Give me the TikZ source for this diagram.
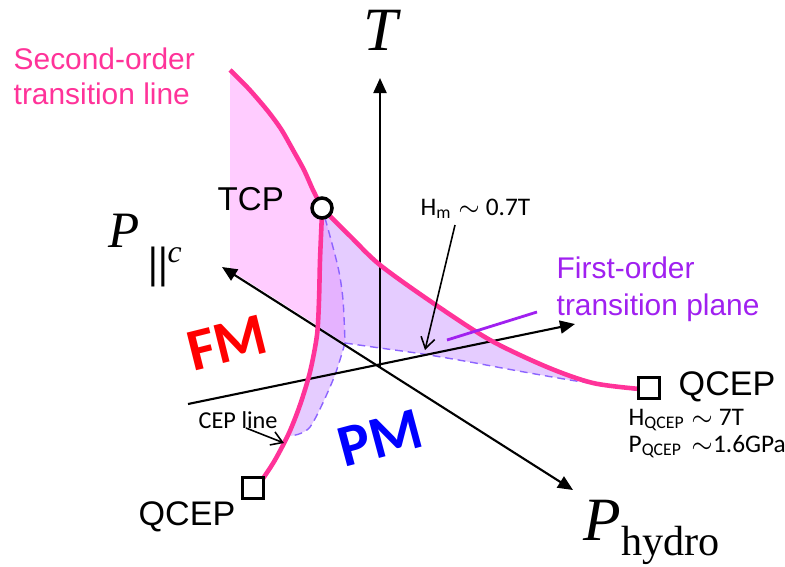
\documentclass[tikz,border=0pt]{standalone}
\usepackage{fontspec}
\usepackage{tikz}
\usetikzlibrary{arrows.meta}
\usetikzlibrary{calc}
\newfontfamily\arialfont{Liberation Sans}
\newfontfamily\calfont{Carlito}
\newfontfamily\timesfont{Liberation Serif}
\definecolor{hotpink}{RGB}{255,51,153}
\definecolor{pinkfill}{RGB}{255,204,255}
\definecolor{lavender}{RGB}{204,153,255}
\definecolor{dashpurple}{RGB}{140,100,255}
\definecolor{violet}{RGB}{160,32,240}
\definecolor{red}{RGB}{255,0,0}
\definecolor{blue}{RGB}{0,0,255}

\begin{document}
\begin{tikzpicture}[x=0.01cm, y=-0.01cm,
  axis/.style={line width=0.6pt},
  axtip/.style={-{Triangle[length=1.5mm,width=1.3mm]}},
  pinkline/.style={hotpink, line width=1.3pt},
  dashline/.style={dashpurple, line width=0.4pt, dash pattern=on 2.2pt off 1.4pt},
  note/.style={->, >={Straight Barb[length=1.1mm,width=1.4mm]}, line width=0.45pt},
  qbox/.style={draw, line width=0.9pt, fill=white, minimum size=0.21cm, inner sep=0pt},
  tcpdot/.style={draw, circle, line width=1pt, fill=white, minimum size=0.2cm, inner sep=0pt},
  txt/.style={inner sep=0pt}]

\useasboundingbox (0,0) rectangle (785,566);

%---------------------------------------
% Axes end points
%---------------------------------------
\coordinate (O)  at (380,367);
\coordinate (Tt) at (380,78);
\coordinate (Pc) at (222,267);
\coordinate (Ph) at (573,490);
\coordinate (Hm) at (188,404);
\coordinate (Hp) at (575,324);

%---------------------------------------
% Planes
%---------------------------------------
% second-order sheet (pink)
\fill[pinkfill] plot[smooth] coordinates {(230,70) (248,88) (267,110) (281,129) (293,150) (304,170) (313,190) (322,208)}
  -- plot[smooth] coordinates {(325,218) (338,267) (343,300) (345,343)}
  -- (230,270) -- cycle;

% first-order plane (lavender)
\fill[lavender, opacity=0.5] plot[smooth] coordinates {(322,208) (350,236) (380,265) (433,303) (490,340) (547,367) (593,383) (640,389)}
  -- plot[smooth] coordinates {(635,390) (570,380) (513,370) (470,362) (423,354) (380,348) (345,343)}
  -- plot[smooth] coordinates {(345,343) (333,380) (310,427) (290,436)}
  -- plot[smooth] coordinates {(289,433) (300,405) (310,372) (317,335) (319,300) (320,260) (322,213)}
  -- cycle;

% edges of the plane
\draw[dashline] plot[smooth] coordinates {(325,218) (338,267) (343,300) (345,343)};
\draw[dashline] plot[smooth] coordinates {(345,343) (380,348) (423,354) (470,362) (513,370) (570,380) (635,390)};
\draw[dashline] plot[smooth] coordinates {(345,343) (333,380) (310,427) (290,436)};

%---------------------------------------
% Axes
%---------------------------------------
\draw[axis, axtip] (O) -- (Tt);
\draw[axis, {Triangle[length=1.5mm,width=1.3mm]}-{Triangle[length=1.5mm,width=1.3mm]}] (Pc) -- (Ph);
\draw[axis, axtip] (Hm) -- (Hp);

\node[txt, anchor=base] (Tlab) at (381,50) {\timesfont\fontsize{17.5}{20}\selectfont\itshape T};
\node[txt, anchor=base west] (Pclab) at (108,247)
  {\timesfont\fontsize{14.5}{16}\selectfont\itshape P\,\raisebox{-0.30cm}{\fontsize{12.5}{14}\selectfont\upshape\bfseries ||\raisebox{0.15cm}{\fontsize{9}{10}\selectfont\mdseries\itshape c}}};
\node[txt, anchor=base west] (Phlab) at (583,540)
  {\timesfont\fontsize{17.5}{20}\selectfont\itshape P\raisebox{-0.15cm}{\fontsize{12}{14}\selectfont\upshape hydro}};

%---------------------------------------
% Transition lines
%---------------------------------------
\draw[pinkline] plot[smooth] coordinates {(230,70) (248,88) (267,110) (281,129) (293,150) (304,170) (313,190) (322,208)};
\draw[pinkline] plot[smooth] coordinates {(322,208) (350,236) (380,265) (433,303) (490,340) (547,367) (593,383) (640,389)};
\draw[pinkline] plot[smooth] coordinates {(322,213) (320,260) (319,300) (317,335) (310,372) (300,405) (289,433) (275,460) (262,480)};

\node[tcpdot] (tcp) at (322,208) {};
\node[qbox] (qcepR) at (649,388) {};
\node[qbox] (qcepL) at (253,488) {};

%---------------------------------------
% Labels
%---------------------------------------
\node[txt, anchor=north west, align=left, hotpink, font=\arialfont\fontsize{8.5}{10}\selectfont] (soLab) at (13,47)
  {Second-order\\transition line};
\node[txt, anchor=north west, align=left, violet, font=\arialfont\fontsize{8.5}{10.5}\selectfont] (foLab) at (556,256)
  {First-order\\transition plane};
\node[txt, anchor=base west] (tcpLab) at (217,210) {\arialfont\fontsize{9.4}{11}\selectfont TCP};
\node[txt, anchor=base west] (qRLab) at (678,395) {\arialfont\fontsize{9.7}{11}\selectfont QCEP};
\node[txt, anchor=base west] (qLLab) at (138,525) {\arialfont\fontsize{9.7}{11}\selectfont QCEP};
\node[txt, anchor=base west] (hmLab) at (420,215) {\calfont\fontsize{7.2}{9}\selectfont H\textsubscript{m} $\sim$ 0.7T};
\node[txt, anchor=base west] (hqLab) at (628,425) {\calfont\fontsize{7.2}{9}\selectfont H\textsubscript{QCEP} $\sim$ 7T};
\node[txt, anchor=base west] (pqLab) at (628,452) {\calfont\fontsize{7.2}{9}\selectfont P\textsubscript{QCEP}\,\,$\sim$1.6GPa};
\node[txt, anchor=base west] (cepLab) at (198,428) {\calfont\fontsize{6.9}{9}\selectfont CEP line};
\node[txt, red, rotate=14] (fmLab) at (227,343) {\calfont\bfseries\fontsize{17}{19}\selectfont FM};
\node[txt, blue, rotate=15] (pmLab) at (380,438) {\calfont\bfseries\fontsize{17}{19}\selectfont PM};

% pointers
\coordinate (hmFrom) at (455,225);
\coordinate (hmTo)   at (425,350);
\coordinate (cepFrom) at (246,428);
\coordinate (cepTo)   at (284,443);
\coordinate (foFrom) at (537,312);
\coordinate (foTo)   at (447,340);
\draw[note] (hmFrom) -- (hmTo);
\draw[note] (cepFrom) -- (cepTo);
\draw[violet, line width=0.8pt] (foFrom) -- (foTo);

\end{tikzpicture}
\end{document}
